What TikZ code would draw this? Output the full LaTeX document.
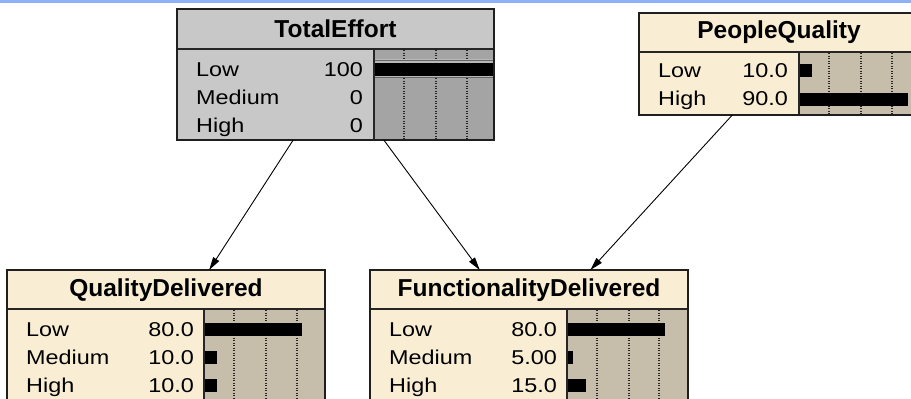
\documentclass[tikz,border=0pt]{standalone}
\usepackage{fontspec}
\usetikzlibrary{arrows.meta}
\newfontfamily\titlefont{Liberation Sans}
\newfontfamily\rowfont{Liberation Sans}[FakeStretch=1.17]

\definecolor{topblue}{RGB}{140,176,250}
\definecolor{cream}{RGB}{249,238,212}
\definecolor{beige}{RGB}{198,190,170}
\definecolor{tegray}{RGB}{200,200,200}
\definecolor{tedark}{RGB}{164,164,164}
\definecolor{teband}{RGB}{184,184,184}

\tikzset{
  nframe/.style={draw=black!88, line width=2pt},
  sepline/.style={draw=black!85, line width=1.5pt},
  gridline/.style={draw=black!85, line width=1.2pt, dash pattern=on 1.2pt off 1.3pt},
  barfill/.style={fill=black},
  ntitle/.style={font=\titlefont\bfseries\fontsize{24.5}{26}\selectfont, inner sep=0},
  lab/.style={font=\rowfont\fontsize{20}{22}\selectfont, inner sep=0, anchor=base west},
  val/.style={font=\rowfont\fontsize{20}{22}\selectfont, inner sep=0, anchor=base east},
  link/.style={draw=black, line width=0.9pt, -{Triangle[length=13pt,width=7pt]}},
  hook/.style={rectangle, inner sep=0, outer sep=0, draw=none}
}

\begin{document}
\begin{tikzpicture}[x=1pt, y=-1pt]
\useasboundingbox (0,0) rectangle (911,399);
\clip (0,0) rectangle (911,399);
\fill[white] (0,0) rectangle (911,399);
\fill[topblue] (0,0) rectangle (911,3.2);

% ---------- TotalEffort ----------
\node[hook, minimum width=317pt, minimum height=131pt] (te) at (335.5,74.5) {};
\fill[tegray] (177,9) rectangle (374,140);
\fill[tegray] (177,9) rectangle (494,49);
\fill[tedark] (374,49) rectangle (494,140);
\fill[teband] (374,59) rectangle (494,78);
\foreach \gx in {404,436,467} {
  \draw[gridline] (\gx,50) -- (\gx,59);
  \draw[gridline] (\gx,78) -- (\gx,140);
}
\draw[draw=black!60, line width=1pt] (374,60) -- (494,60) (374,77) -- (494,77);
\fill[barfill] (375,62.5) rectangle (494,75.5);
\draw[sepline] (177,49) -- (494,49);
\draw[sepline] (374,49) -- (374,140);
\draw[nframe] (177,9) rectangle (494,140);
\node[ntitle] (teT) at (335.5,29) {TotalEffort};
\node[lab] (teL1) at (196,76) {Low};
\node[lab] (teL2) at (196,104) {Medium};
\node[lab] (teL3) at (196,132) {High};
\node[val] (teV1) at (363,76) {100};
\node[val] (teV2) at (363,104) {0};
\node[val] (teV3) at (363,132) {0};

% ---------- PeopleQuality ----------
\node[hook, minimum width=280pt, minimum height=102pt] (pq) at (779,64) {};
\fill[cream] (639,13) rectangle (799,115);
\fill[cream] (639,13) rectangle (919,52);
\fill[beige] (799,52) rectangle (919,115);
\foreach \gx in {829,861,892} \draw[gridline] (\gx,53) -- (\gx,115);
\fill[barfill] (800,64) rectangle (812,77);
\fill[barfill] (800,92.5) rectangle (908,105.5);
\draw[sepline] (639,52) -- (919,52);
\draw[sepline] (799,52) -- (799,115);
\draw[nframe] (639,13) rectangle (919,115);
\node[ntitle] (pqT) at (779,32.5) {PeopleQuality};
\node[lab] (pqL1) at (658,77) {Low};
\node[lab] (pqL2) at (658,105) {High};
\node[val] (pqV1) at (788,77) {10.0};
\node[val] (pqV2) at (788,105) {90.0};

% ---------- QualityDelivered ----------
\node[hook, minimum width=318pt, minimum height=134pt] (qd) at (166,337) {};
\fill[cream] (7,270) rectangle (204,404);
\fill[cream] (7,270) rectangle (325,309);
\fill[beige] (204,309) rectangle (325,404);
\foreach \gx in {234,266,297} \draw[gridline] (\gx,310) -- (\gx,404);
\fill[barfill] (205,322.5) rectangle (302,336);
\fill[barfill] (205,350.5) rectangle (217,364);
\fill[barfill] (205,378.5) rectangle (217,392);
\draw[sepline] (7,309) -- (325,309);
\draw[sepline] (204,309) -- (204,404);
\draw[nframe] (7,270) rectangle (325,404);
\node[ntitle] (qdT) at (166,290) {QualityDelivered};
\node[lab] (qdL1) at (26,336) {Low};
\node[lab] (qdL2) at (26,364) {Medium};
\node[lab] (qdL3) at (26,392) {High};
\node[val] (qdV1) at (194,336) {80.0};
\node[val] (qdV2) at (194,364) {10.0};
\node[val] (qdV3) at (194,392) {10.0};

% ---------- FunctionalityDelivered ----------
\node[hook, minimum width=318pt, minimum height=134pt] (fd) at (529,337) {};
\fill[cream] (370,270) rectangle (567,404);
\fill[cream] (370,270) rectangle (688,309);
\fill[beige] (567,309) rectangle (688,404);
\foreach \gx in {597,629,659} \draw[gridline] (\gx,310) -- (\gx,404);
\fill[barfill] (568,322.5) rectangle (665,336);
\fill[barfill] (568,350.5) rectangle (573,364);
\fill[barfill] (568,378.5) rectangle (586,392);
\draw[sepline] (370,309) -- (688,309);
\draw[sepline] (567,309) -- (567,404);
\draw[nframe] (370,270) rectangle (688,404);
\node[ntitle] (fdT) at (529,290) {FunctionalityDelivered};
\node[lab] (fdL1) at (389,336) {Low};
\node[lab] (fdL2) at (389,364) {Medium};
\node[lab] (fdL3) at (389,392) {High};
\node[val] (fdV1) at (557,336) {80.0};
\node[val] (fdV2) at (557,364) {5.00};
\node[val] (fdV3) at (557,392) {15.0};

% ---------- links ----------
\draw[link] (te) -- (qd);
\draw[link] (te) -- (fd);
\draw[link] (pq) -- (fd);
\end{tikzpicture}
\end{document}
